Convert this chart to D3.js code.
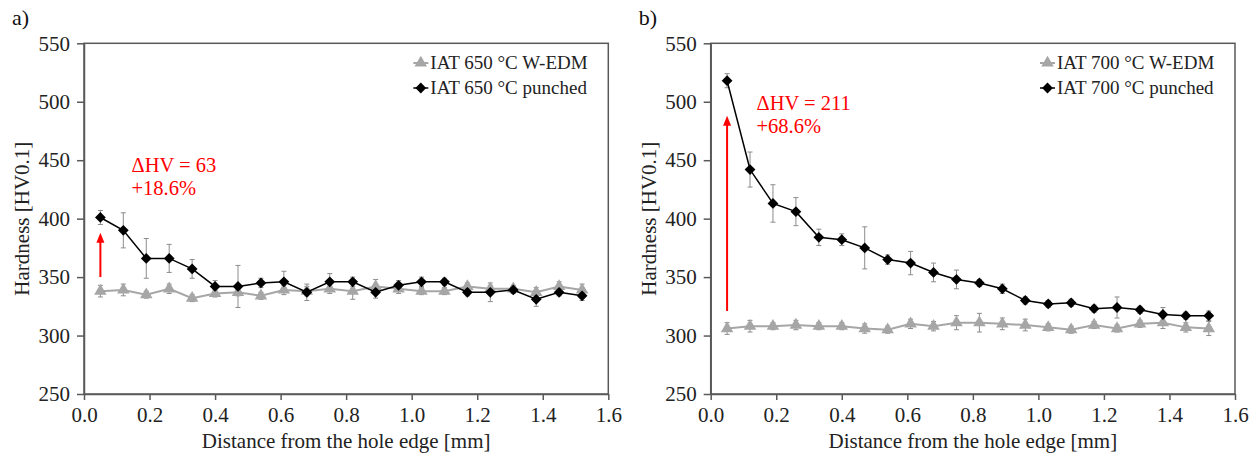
<!DOCTYPE html>
<html>
<head>
<meta charset="utf-8">
<script src="https://cdn.jsdelivr.net/npm/d3@7"></script>
<style>
  body { margin: 0; background: #fff; }
  svg text { font-family: "Liberation Serif", "Times New Roman", serif !important; }
</style>
</head>
<body>
<svg id="chart" width="1257" height="461"></svg>
<script>
// distance from the hole edge [mm]
const distance = [0.05, 0.12, 0.19, 0.26, 0.33, 0.40, 0.47, 0.54, 0.61, 0.68, 0.75,
                  0.82, 0.89, 0.96, 1.03, 1.10, 1.17, 1.24, 1.31, 1.38, 1.45, 1.52];

// panel a) IAT 650 °C
const edm650 = [338, 339, 335, 340, 332, 336, 337, 334, 339, 338, 340,
                338, 342, 340, 338, 338, 342, 340, 340, 337, 342, 339];
const edm650Err = [5, 5, 3, 4, 3, 3, 3, 3, 4, 4, 4, 7, 6, 4, 3, 3, 3, 3, 3, 4, 4, 5];
const punched650 = [401, 390, 366, 366, 357, 342, 342, 345, 346, 337, 346,
                    346, 337, 343, 346, 346, 337, 337, 339, 331, 337, 334];
const punched650Err = [6, 15, 17, 12, 8, 5, 18, 4, 9, 7, 7, 4, 5, 4, 4, 3, 3, 8, 3, 6, 3, 4];

// panel b) IAT 700 °C
const edm700 = [306, 308, 308, 309, 308, 308, 306, 305, 310, 308, 311,
                311, 310, 309, 307, 305, 309, 306, 310, 311, 307, 306];
const edm700Err = [5, 5, 3, 4, 3, 3, 4, 3, 4, 4, 6, 8, 5, 5, 3, 3, 3, 3, 3, 5, 4, 6];
const punched700 = [518, 442, 413, 406, 384, 382, 375, 365, 362, 354, 348,
                    345, 340, 330, 327, 328, 323, 324, 322, 318, 317, 317];
const punched700Err = [6, 15, 16, 12, 7, 5, 18, 4, 10, 8, 8, 3, 4, 3, 3, 3, 3, 9, 3, 6, 3, 4];

// axis ticks
const xTicks = [0, 0.2, 0.4, 0.6, 0.8, 1.0, 1.2, 1.4, 1.6];
const yTicks = [250, 300, 350, 400, 450, 500, 550];

// annotation: arrow [from, to] in HV and text lines
const arrow650 = [350, 388];
const label650 = ["ΔHV = 63", "+18.6%"];
const arrow700 = [321, 488];
const label700 = ["ΔHV = 211", "+68.6%"];

const svg = d3.select("#chart");
const W = 524.3, TOP = 43.3, BOTTOM = 394;
const axisColor = "#595959";

function drawPanel(p) {
  let x = d3.scaleLinear().domain([0, 1.6]).range([p.left, p.left + W]);
  let y = d3.scaleLinear().domain([250, 550]).range([BOTTOM, TOP]);
  let g = svg.append("g");

  // frame
  g.append("rect")
    .attr("x", p.left).attr("y", TOP)
    .attr("width", W).attr("height", BOTTOM - TOP)
    .attr("fill", "none").attr("stroke", axisColor).attr("stroke-width", 1.5);

  let xa = g.append("g")
    .attr("transform", "translate(0," + BOTTOM + ")")
    .call(d3.axisBottom(x).tickValues(xTicks).tickFormat(d3.format(".1f"))
      .tickSizeInner(6).tickSizeOuter(0).tickPadding(7));
  let ya = g.append("g")
    .attr("transform", "translate(" + p.left + ",0)")
    .call(d3.axisLeft(y).tickValues(yTicks)
      .tickSizeInner(7).tickSizeOuter(0).tickPadding(7));
  [xa, ya].forEach(function(a){
    a.select(".domain").attr("stroke", axisColor).attr("stroke-width", 1.5);
    a.selectAll(".tick line").attr("stroke", axisColor).attr("stroke-width", 1.5);
    a.selectAll(".tick text").attr("font-size", 21).attr("fill", "#222");
  });

  // titles
  g.append("text")
    .attr("x", p.left + W / 2).attr("y", 448)
    .attr("text-anchor", "middle").attr("font-size", 21).attr("fill", "#222")
    .text("Distance from the hole edge [mm]");
  g.append("text")
    .attr("transform", "translate(" + (p.left - 55) + "," + ((TOP + BOTTOM) / 2) + ") rotate(-90)")
    .attr("text-anchor", "middle").attr("font-size", 21).attr("fill", "#222")
    .text("Hardness [HV0.1]");
  g.append("text")
    .attr("x", p.left - 72).attr("y", 25)
    .attr("font-size", 22).attr("fill", "#111")
    .text(p.tag);

  // error bars
  p.series.forEach(function(s){
    let eb = g.append("g").selectAll("g")
      .data(distance.map(function(d, i){ return {x: d, v: s.values[i], e: s.err[i]}; }))
      .enter().append("g")
      .attr("stroke", "#8c8c8c").attr("stroke-width", 1);
    eb.append("line")
      .attr("x1", d => x(d.x)).attr("x2", d => x(d.x))
      .attr("y1", d => y(d.v - d.e)).attr("y2", d => y(d.v + d.e));
    eb.append("line")
      .attr("x1", d => x(d.x) - 2.5).attr("x2", d => x(d.x) + 2.5)
      .attr("y1", d => y(d.v + d.e)).attr("y2", d => y(d.v + d.e));
    eb.append("line")
      .attr("x1", d => x(d.x) - 2.5).attr("x2", d => x(d.x) + 2.5)
      .attr("y1", d => y(d.v - d.e)).attr("y2", d => y(d.v - d.e));
  });

  // lines and markers
  p.series.forEach(function(s){
    let line = d3.line().x((d, i) => x(distance[i])).y(d => y(d));
    g.append("path")
      .datum(s.values)
      .attr("d", line)
      .attr("fill", "none").attr("stroke", s.color).attr("stroke-width", s.width);
    g.append("g").selectAll("path")
      .data(s.values)
      .enter().append("path")
      .attr("d", s.symbol)
      .attr("transform", (d, i) => "translate(" + x(distance[i]) + "," + y(d) + ")" + s.rot)
      .attr("fill", s.color);
  });

  // arrow
  let ax = x(distance[0]);
  g.append("line")
    .attr("x1", ax).attr("x2", ax)
    .attr("y1", y(p.arrow[0])).attr("y2", y(p.arrow[1]) + 8)
    .attr("stroke", "#ff0000").attr("stroke-width", 2);
  g.append("path")
    .attr("d", "M" + ax + "," + y(p.arrow[1]) + " l-4,10 l8,0 z")
    .attr("fill", "#ff0000");
  p.label.forEach(function(t, i){
    g.append("text")
      .attr("x", x(p.labelAt[0])).attr("y", y(p.labelAt[1]) + i * 23)
      .attr("font-size", 20.5).attr("fill", "#ff0000")
      .text(t);
  });

  // legend
  let lg = g.append("g")
    .attr("transform", "translate(" + (p.left + W - 178) + ",0)");
  p.series.forEach(function(s, i){
    let cy = 63 + i * 25;
    lg.append("line")
      .attr("x1", -17).attr("x2", -2).attr("y1", cy).attr("y2", cy)
      .attr("stroke", s.color).attr("stroke-width", s.width);
    lg.append("path")
      .attr("d", s.symbol)
      .attr("transform", "translate(-9.5," + cy + ")" + s.rot)
      .attr("fill", s.color);
    lg.append("text")
      .attr("x", 0).attr("y", cy + 6)
      .attr("font-size", 19).attr("fill", "#222")
      .text(s.name);
  });
}

const tri = d3.symbol().type(d3.symbolTriangle).size(68)();
const dia = d3.symbol().type(d3.symbolSquare).size(58)();

drawPanel({
  left: 84, tag: "a)",
  arrow: arrow650, label: label650, labelAt: [0.145, 440],
  series: [
    {name: "IAT 650 °C W-EDM", values: edm650, err: edm650Err, color: "#a6a6a6", width: 2, symbol: tri, rot: ""},
    {name: "IAT 650 °C punched", values: punched650, err: punched650Err, color: "#000", width: 1.5, symbol: dia, rot: " rotate(45)"}
  ]
});
drawPanel({
  left: 710.7, tag: "b)",
  arrow: arrow700, label: label700, labelAt: [0.14, 493],
  series: [
    {name: "IAT 700 °C W-EDM", values: edm700, err: edm700Err, color: "#a6a6a6", width: 2, symbol: tri, rot: ""},
    {name: "IAT 700 °C punched", values: punched700, err: punched700Err, color: "#000", width: 1.5, symbol: dia, rot: " rotate(45)"}
  ]
});
</script>
</body>
</html>
